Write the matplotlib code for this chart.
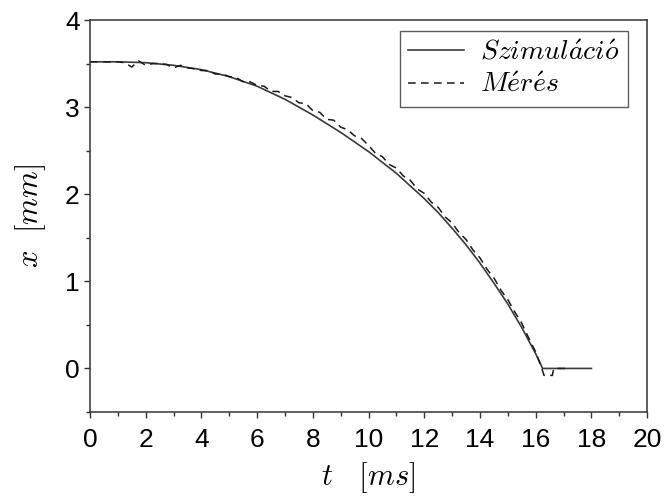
import matplotlib
matplotlib.use("Agg")
import matplotlib.pyplot as plt
from matplotlib.ticker import MultipleLocator

plt.rcParams["mathtext.fontset"] = "cm"
plt.rcParams["font.family"] = ["Liberation Sans", "DejaVu Sans"]

# Simulated armature displacement x [mm] vs time t [ms]
t_sim = [0, 1, 2, 3, 4, 5, 6, 7, 8, 9, 10, 11, 12, 12.5, 13, 13.5, 14,
         14.5, 15, 15.5, 16, 16.25, 18]
x_sim = [3.52, 3.52, 3.51, 3.48, 3.43, 3.35, 3.24, 3.09, 2.91, 2.71, 2.49,
         2.24, 1.95, 1.79, 1.61, 1.42, 1.21, 0.98, 0.74, 0.47, 0.17, 0.0, 0.0]

# Measured displacement (sampled, quantised sensor output)
t_meas = [0.0, 0.25, 0.5, 0.75, 1.0, 1.25, 1.5, 1.75, 2.0, 2.25, 2.5, 2.75,
          3.0, 3.25, 3.5, 3.75, 4.0, 4.25, 4.5, 4.75, 5.0, 5.25, 5.5, 5.75,
          6.0, 6.25, 6.5, 6.75, 7.0, 7.25, 7.5, 7.75, 8.0, 8.25, 8.5, 8.75,
          9.0, 9.25, 9.5, 9.75, 10.0, 10.25, 10.5, 10.75, 11.0, 11.25, 11.5,
          11.75, 12.0, 12.25, 12.5, 12.75, 13.0, 13.25, 13.5, 13.75, 14.0,
          14.25, 14.5, 14.75, 15.0, 15.25, 15.5, 15.75, 16.0, 16.2, 16.3,
          16.6, 16.65, 17.1]
x_meas = [3.52, 3.52, 3.52, 3.52, 3.52, 3.51, 3.46, 3.53, 3.48, 3.50, 3.50,
          3.49, 3.45, 3.48, 3.45, 3.44, 3.42, 3.42, 3.38, 3.38, 3.35, 3.34,
          3.29, 3.29, 3.25, 3.24, 3.18, 3.18, 3.13, 3.11, 3.05, 3.04, 2.96,
          2.94, 2.86, 2.85, 2.77, 2.74, 2.67, 2.64, 2.56, 2.47, 2.43, 2.34,
          2.30, 2.21, 2.16, 2.06, 2.01, 1.91, 1.85, 1.74, 1.67, 1.56, 1.48,
          1.36, 1.27, 1.14, 1.04, 0.90, 0.79, 0.65, 0.52, 0.35, 0.19, 0.02,
          -0.08, -0.08, 0.0, 0.0]

labels = [r"$Szimul\acute{a}ci\acute{o}$", r"$M\acute{e}r\acute{e}s$"]

fig = plt.figure(figsize=(6.64, 5.0), dpi=100)
ax = fig.add_axes([0.1355, 0.176, 0.839, 0.784])

ax.plot(t_sim, x_sim, color="#3a3a3a", lw=1.2, label=labels[0])
ax.plot(t_meas, x_meas, color="#1a1a1a", lw=1.1, linestyle=(0, (5, 3.5)),
        label=labels[1])

ax.set_xlim(0, 20)
ax.set_ylim(-0.5, 4)
ax.xaxis.set_major_locator(MultipleLocator(2))
ax.xaxis.set_minor_locator(MultipleLocator(1))
ax.yaxis.set_major_locator(MultipleLocator(1))
ax.yaxis.set_minor_locator(MultipleLocator(0.5))

for sp in ax.spines.values():
    sp.set_color("#333333")
    sp.set_linewidth(1.1)

ax.tick_params(which="major", direction="out", length=4.3, width=1.0,
               color="#333333", labelsize=19, pad=3)
ax.tick_params(which="minor", direction="out", length=3.0, width=1.0,
               color="#333333")
ax.tick_params(axis="x", which="major", pad=7)

ax.set_xlabel(r"$t\quad[ms]$", fontsize=22, labelpad=6)
ax.set_ylabel(r"$x\ \ [mm]$", fontsize=22, labelpad=12)

leg = ax.legend(loc="upper right", bbox_to_anchor=(0.966, 0.972),
                fontsize=20, frameon=True, fancybox=False,
                handlelength=2.0, handletextpad=0.6, borderpad=0.3,
                labelspacing=0.25, borderaxespad=0.0)
leg.get_frame().set_edgecolor("#333333")
leg.get_frame().set_linewidth(1.0)

fig.savefig("out.png", dpi=100)
